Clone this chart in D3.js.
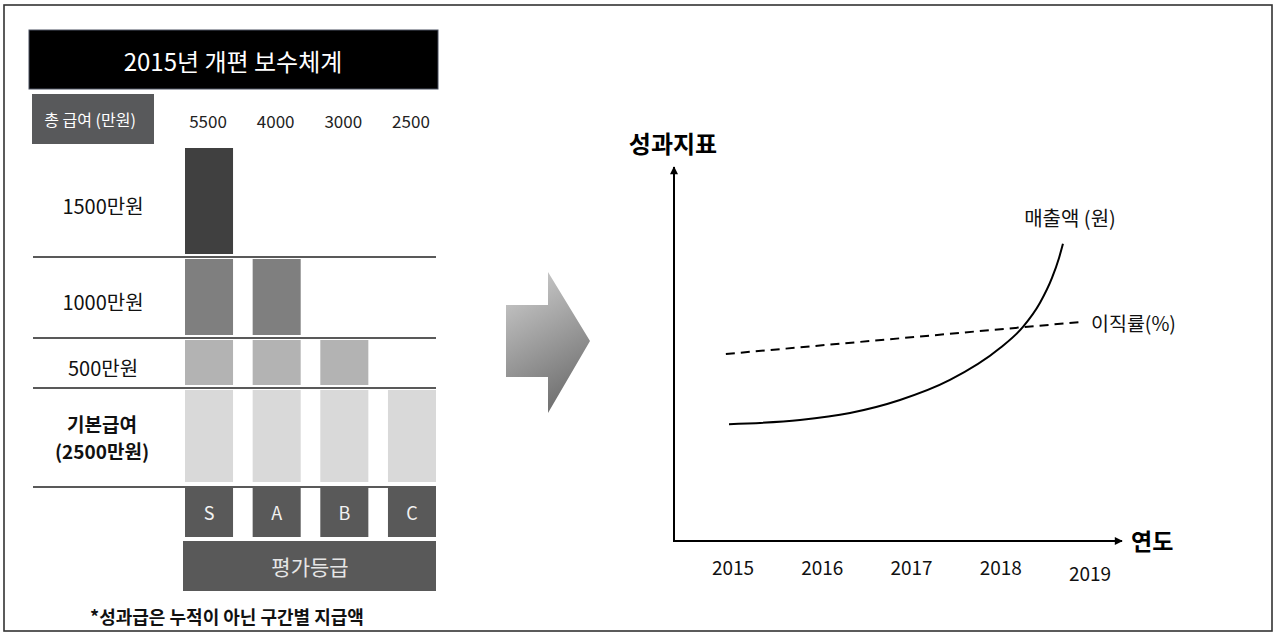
<!DOCTYPE html>
<html>
<head>
<meta charset="utf-8">
<script src="https://cdn.jsdelivr.net/npm/d3@7"></script>
<style>
  html, body { margin: 0; padding: 0; background: #fff; }
  svg { display: block; font-family: "Noto Sans CJK KR", "Noto Sans", sans-serif; }
</style>
</head>
<body>
<svg width="1274" height="633"></svg>
<script>
// ---- data: left panel (2015 pay structure) ----
const grades = ['S', 'A', 'B', 'C'];                    // evaluation grades
const totals = [5500, 4000, 3000, 2500];                // total pay per grade (만원)
const levels = [0, 2500, 3000, 4000, 5500];             // band boundaries (cumulative)
const bandLabels = ['기본급여', '500만원', '1000만원', '1500만원'];
const bandColors = ['#d9d9d9', '#b3b3b3', '#7f7f7f', '#404040'];

// ---- data: right panel (performance indicators) ----
const years = [2015, 2016, 2017, 2018, 2019];
const revYears = [2014.955, 2015.751, 2016.311, 2016.871, 2017.431, 2017.992, 2018.249, 2018.44, 2018.574, 2018.653, 2018.697];
const revenue = [31.5, 32.6, 34.5, 38.0, 43.4, 52.0, 57.7, 64.2, 70.9, 76.3, 80.1];
const turnYears = [2014.92, 2018.88];
const turnover = [50.4, 59.0];

const svg = d3.select('svg');

// outer frame
svg.append('rect').attr('x', 4).attr('y', 5).attr('width', 1268).attr('height', 626)
  .attr('fill', 'none').attr('stroke', '#333').attr('stroke-width', 1.6);

// ---------------------------------------------------------------------------------
// left panel
// ---------------------------------------------------------------------------------
const left = svg.append('g');

// title bar
left.append('rect').attr('x', 29).attr('y', 30).attr('width', 409).attr('height', 59)
  .attr('fill', '#000').attr('stroke', '#4a5060');
left.append('text').attr('x', 233).attr('y', 60).attr('text-anchor', 'middle')
  .attr('dominant-baseline', 'central').attr('fill', '#fff').attr('font-size', 24)
  .text('2015년 개편 보수체계');

// "총 급여" box
left.append('rect').attr('x', 32).attr('y', 94).attr('width', 122).attr('height', 50)
  .attr('fill', '#58595b');
left.append('text').attr('x', 90).attr('y', 119).attr('text-anchor', 'middle')
  .attr('dominant-baseline', 'central').attr('fill', '#fff').attr('font-size', 16)
  .text('총 급여 (만원)');

// scales
const x = d3.scaleBand().domain(grades).range([185, 436]).paddingInner(0.29);
const y = d3.scaleLinear().domain(levels).range([487, 388, 338, 257, 146]);

// totals above columns
left.selectAll('.total').data(grades).join('text')
  .attr('x', g => x(g) + x.bandwidth() / 2 - 1).attr('y', 120)
  .attr('text-anchor', 'middle').attr('dominant-baseline', 'central')
  .attr('font-size', 17).attr('fill', '#222')
  .text((g, i) => totals[i]);

// bar segments
const segs = [];
grades.forEach((g, i) => {
  for (let j = 0; j < levels.length - 1; j++) {
    if (levels[j + 1] <= totals[i]) segs.push({ g, j, lo: levels[j], hi: levels[j + 1] });
  }
});
left.selectAll('.seg').data(segs).join('rect')
  .attr('x', d => x(d.g)).attr('width', x.bandwidth())
  .attr('y', d => y(d.hi) + 2)
  .attr('height', d => y(d.lo) - y(d.hi) - (d.j === 0 ? 7 : 5))
  .attr('fill', d => bandColors[d.j]);

// divider lines
left.selectAll('.div').data(levels.slice(0, 4)).join('line')
  .attr('x1', 33).attr('x2', 436)
  .attr('y1', d => y(d)).attr('y2', d => y(d))
  .attr('stroke', '#222').attr('stroke-width', 1.3);

// band labels
bandLabels.forEach((lab, j) => {
  const cy = (y(levels[j]) + y(levels[j + 1])) / 2;
  if (j === 0) {
    const t = left.append('text').attr('x', 102).attr('text-anchor', 'middle')
      .attr('font-size', 19).attr('font-weight', 'bold').attr('fill', '#111');
    t.append('tspan').attr('x', 102).attr('y', cy - 14).attr('dominant-baseline', 'central').text(lab);
    t.append('tspan').attr('x', 102).attr('y', cy + 13).attr('dominant-baseline', 'central').text('(2500만원)');
  } else {
    left.append('text').attr('x', 103).attr('y', cy + 4).attr('text-anchor', 'middle')
      .attr('dominant-baseline', 'central').attr('font-size', 20).attr('fill', '#111')
      .text(lab);
  }
});

// grade boxes
left.selectAll('.grade').data(grades).join('rect')
  .attr('x', g => x(g)).attr('width', x.bandwidth())
  .attr('y', y(0) + 1).attr('height', 49).attr('fill', '#595959');
left.selectAll('.gradeText').data(grades).join('text')
  .attr('x', g => x(g) + x.bandwidth() / 2).attr('y', 512)
  .attr('text-anchor', 'middle').attr('dominant-baseline', 'central')
  .attr('font-size', 18).attr('fill', '#f2f2f2').text(g => g);

// 평가등급 bar
left.append('rect').attr('x', 183).attr('y', 541).attr('width', 253).attr('height', 50)
  .attr('fill', '#595959');
left.append('text').attr('x', 310).attr('y', 566).attr('text-anchor', 'middle')
  .attr('dominant-baseline', 'central').attr('font-size', 21).attr('fill', '#e6e6e6')
  .text('평가등급');

// footnote
left.append('text').attr('x', 227).attr('y', 616).attr('text-anchor', 'middle')
  .attr('dominant-baseline', 'central').attr('font-size', 18).attr('font-weight', 'bold')
  .attr('fill', '#111').text('*성과급은 누적이 아닌 구간별 지급액');

// ---------------------------------------------------------------------------------
// big arrow in the middle
// ---------------------------------------------------------------------------------
const defs = svg.append('defs');
const grad = defs.append('linearGradient').attr('id', 'arrowGrad')
  .attr('x1', 0).attr('y1', 0).attr('x2', 0.35).attr('y2', 1);
grad.append('stop').attr('offset', '0%').attr('stop-color', '#d2d2d2');
grad.append('stop').attr('offset', '100%').attr('stop-color', '#747474');

const arrowPts = [[506, 305], [548, 305], [548, 272], [590, 341], [548, 413], [548, 377], [506, 377]];
svg.append('path').attr('d', d3.line()(arrowPts) + 'Z').attr('fill', 'url(#arrowGrad)');

// ---------------------------------------------------------------------------------
// right panel
// ---------------------------------------------------------------------------------
const plot = { left: 674, right: 1122, top: 167, bottom: 541 };
const xr = d3.scaleLinear().domain([2015, 2019]).range([733, 1090]);
const yr = d3.scaleLinear().domain([0, 100]).range([plot.bottom, 170]);

defs.append('marker').attr('id', 'head').attr('viewBox', '0 0 10 10')
  .attr('refX', 9).attr('refY', 5).attr('markerWidth', 9).attr('markerHeight', 8)
  .attr('markerUnits', 'userSpaceOnUse').attr('orient', 'auto')
  .append('path').attr('d', 'M0,0 L10,5 L0,10 Z').attr('fill', '#000');

const right = svg.append('g');
right.append('line').attr('x1', plot.left).attr('y1', plot.bottom)
  .attr('x2', plot.left).attr('y2', plot.top)
  .attr('stroke', '#000').attr('stroke-width', 2).attr('marker-end', 'url(#head)');
right.append('line').attr('x1', plot.left - 1).attr('y1', plot.bottom)
  .attr('x2', plot.right).attr('y2', plot.bottom)
  .attr('stroke', '#000').attr('stroke-width', 2).attr('marker-end', 'url(#head)');

// year labels
right.selectAll('.yr').data(years).join('text')
  .attr('x', d => xr(d)).attr('y', (d, i) => i === years.length - 1 ? 572 : 566)
  .attr('text-anchor', 'middle').attr('dominant-baseline', 'central')
  .attr('font-size', 19).attr('fill', '#111').text(d => d);

// axis titles
right.append('text').attr('x', 673).attr('y', 142).attr('text-anchor', 'middle')
  .attr('dominant-baseline', 'central').attr('font-size', 24).attr('font-weight', 'bold')
  .text('성과지표');
right.append('text').attr('x', 1131).attr('y', 540).attr('dominant-baseline', 'central')
  .attr('font-size', 23).attr('font-weight', 'bold').text('연도');

// revenue curve
const line = d3.line().x(d => xr(d[0])).y(d => yr(d[1])).curve(d3.curveMonotoneX);
right.append('path').attr('d', line(d3.zip(revYears, revenue)))
  .attr('fill', 'none').attr('stroke', '#000').attr('stroke-width', 2);

// turnover dashed line
right.append('path').attr('d', d3.line().x(d => xr(d[0])).y(d => yr(d[1]))(d3.zip(turnYears, turnover)))
  .attr('fill', 'none').attr('stroke', '#000').attr('stroke-width', 2)
  .attr('stroke-dasharray', '9,6');

// series labels
right.append('text').attr('x', 1070).attr('y', 217).attr('text-anchor', 'middle')
  .attr('dominant-baseline', 'central').attr('font-size', 20).attr('fill', '#111')
  .text('매출액 (원)');
right.append('text').attr('x', 1091).attr('y', 322)
  .attr('dominant-baseline', 'central').attr('font-size', 19.5).attr('fill', '#111')
  .text('이직률(%)');
</script>
</body>
</html>
